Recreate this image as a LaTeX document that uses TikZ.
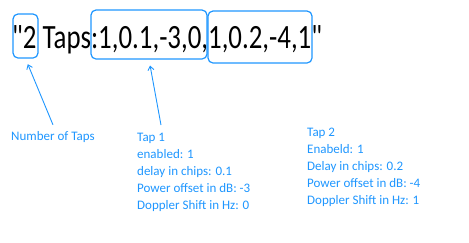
\documentclass[tikz,border=0pt]{standalone}
\usepackage{fontspec}
\setmainfont{Carlito}[Ligatures=TeXOff]
\usetikzlibrary{arrows.meta, positioning}
\definecolor{tapblue}{RGB}{30,150,255}

\begin{document}
\begin{tikzpicture}[x=1pt, y=-1pt,
    big/.style={inner sep=0pt, font=\fontsize{34}{34}\selectfont, anchor=base west},
    part/.style={rectangle, rounded corners=5pt, draw=tapblue, line width=1.2pt},
    note/.style={align=left, text=tapblue, font=\fontsize{13}{17}\selectfont, inner sep=0pt, anchor=north west},
    arr/.style={-{Straight Barb[length=4pt, width=6pt]}, draw=tapblue, line width=0.9pt}
  ]
    \useasboundingbox (0,0) rectangle (469,242);
    \node[big] (spec) at (12,48) {\scalebox{0.79}[1]{"2 Taps:1,0.1,-3,0,1,0.2,-4,1"}};
    \node[part, minimum width=25pt, minimum height=44pt] (numbox) at (25.5,36) {};
    \node[part, minimum width=116pt, minimum height=49pt] (tapbox1) at (149,34.5) {};
    \node[part, minimum width=104pt, minimum height=52pt] (tapbox2) at (260,37) {};
    \node[note, anchor=base west] (numlbl) at (11,140) {Number of Taps};
    \node[note] (tapone) at (137,133) {Tap 1\\enabled: 1\\delay in chips: 0.1\\Power offset in dB: -3\\Doppler Shift in Hz: 0};
    \node[note] (taptwo) at (307,128) {Tap 2\\Enabeld: 1\\Delay in chips: 0.2\\Power offset in dB: -4\\Doppler Shift in Hz: 1};
    \draw[arr, shorten >=6pt] ([yshift=6pt]numlbl.north) -- (numbox.south);
    \draw[arr, shorten >=6pt] ([xshift=24pt, yshift=8pt]tapone.north west) -- (tapbox1.south);
  \end{tikzpicture}
\end{document}
